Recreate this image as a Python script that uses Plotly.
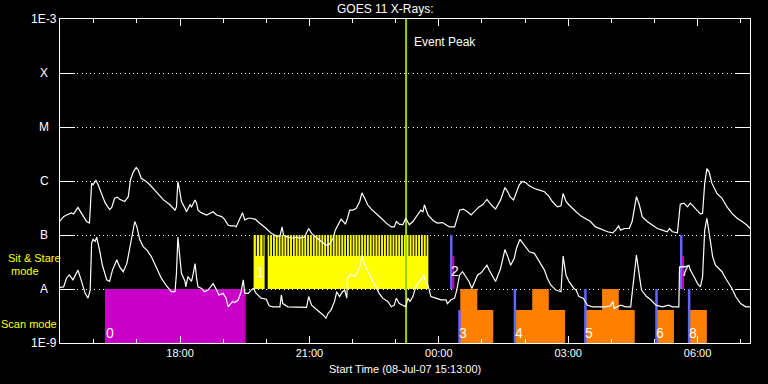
import pandas as pd
import plotly.graph_objects as go

# ---------------- data ----------------
START = pd.Timestamp("2007-07-08 15:13:00")
END = pd.Timestamp("2007-07-09 07:13:00")

# GOES long channel: minutes after start, log10 flux (W/m^2)
long_min = [0, 5, 9, 16, 19, 25, 30, 37, 41, 44, 46, 50, 53, 58, 63, 69, 72, 76, 80, 83,
            90, 95, 98, 102, 106, 109, 113, 120, 125, 134, 144, 153, 160, 162, 164, 166, 169, 174, 176, 181,
            183, 188, 190, 192, 197, 204, 211, 213, 218, 225, 229, 234, 238, 243,
            245, 250, 254, 257, 262, 266, 272, 275, 280, 287, 294, 301, 306, 309, 311, 317, 324, 329, 333, 340,
            346, 350, 354, 361, 366, 370, 375, 380, 383, 389, 391, 394, 397, 400, 403, 407, 412, 417, 420, 424,
            428, 433, 440, 447, 454, 461, 465, 468, 472,
            477, 481, 486, 491, 498, 502, 505, 507, 512, 519, 525, 532, 537, 542, 549, 552, 556, 561, 567, 572,
            576, 583, 588, 594, 600, 606, 613, 619, 623, 626, 631, 635, 639, 643, 648, 653, 660, 667, 674, 680,
            685, 692, 697, 700, 704, 708, 715,
            718, 725, 731, 738, 745, 755, 762, 769, 773, 777, 780, 785, 792, 796, 800, 802, 806, 810, 817, 824,
            831, 838, 845, 848, 852, 859, 861, 863, 868, 873, 877, 882, 887, 891, 894, 897, 900, 903, 907, 914,
            921, 928, 935, 942, 949, 956, 960]
long_log = [-6.74, -6.66, -6.63, -6.59, -6.61, -6.49, -6.60, -6.75, -6.78, -6.04, -6.07, -5.99, -6.07, -6.26, -6.41, -6.53, -6.49, -6.32, -6.30, -6.34,
            -6.38, -6.29, -5.98, -5.83, -5.75, -5.80, -5.95, -6.01, -6.07, -6.20, -6.35, -6.44, -6.54, -6.48, -6.01, -6.14, -6.38, -6.51, -6.57, -6.44,
            -6.48, -6.35, -6.41, -6.54, -6.59, -6.63, -6.59, -6.57, -6.63, -6.66, -6.71, -6.82, -6.83, -6.83,
            -6.85, -6.72, -6.59, -6.72, -6.69, -6.69, -6.71, -6.75, -6.80, -6.88, -6.97, -7.02, -7.02, -6.85, -7.00, -7.04, -7.06, -7.04, -7.06, -7.04,
            -6.88, -6.97, -7.02, -7.09, -7.15, -7.19, -7.17, -7.06, -6.91, -6.75, -6.71, -6.75, -6.80, -6.69, -6.54, -6.54, -6.51, -6.38, -6.22, -6.32,
            -6.44, -6.52, -6.60, -6.69, -6.78, -6.85, -6.85, -6.75, -6.80,
            -6.81, -6.69, -6.81, -6.75, -6.60, -6.54, -6.57, -6.44, -6.63, -6.73, -6.78, -6.77, -6.81, -6.85, -6.85, -6.72, -6.54, -6.52, -6.57, -6.63,
            -6.57, -6.48, -6.44, -6.34, -6.44, -6.52, -6.35, -6.12, -6.20, -6.29, -6.35, -6.20, -6.07, -6.01, -6.03, -6.09, -6.14, -6.17, -6.20, -6.28,
            -6.38, -6.48, -6.46, -6.23, -6.38, -6.44, -6.54,
            -6.57, -6.65, -6.69, -6.75, -6.85, -6.90, -6.94, -6.96, -6.91, -6.83, -6.91, -6.88, -6.88, -6.75, -6.40, -6.29, -6.44, -6.66, -6.75, -6.82,
            -6.88, -6.91, -6.94, -6.88, -6.94, -6.96, -6.66, -6.43, -6.41, -6.48, -6.41, -6.48, -6.54, -6.61, -6.60, -6.04, -5.77, -5.83, -6.04, -6.23,
            -6.32, -6.48, -6.60, -6.69, -6.75, -6.82, -6.88]

# GOES short channel
short_min = [0, 5, 9, 13, 18, 23, 25, 30, 35, 39, 42, 44, 46, 49, 51, 55, 59, 65, 69, 73,
             79, 83, 88, 93, 97, 101, 104, 107, 111, 116, 121, 127, 134, 141, 148, 155, 160, 162, 164, 167,
             169, 174, 175, 178, 183, 185, 188, 190, 192, 197, 201, 206, 213, 218, 221, 227, 231, 234, 237, 240,
             243, 248, 252, 255, 257, 262, 266, 269, 273, 280, 287, 291, 296, 306, 308, 310, 317, 329, 343, 346,
             350, 357, 361, 366, 370, 373, 377, 382, 385, 389, 393, 396, 399, 400, 404, 410, 414, 418, 420, 424,
             431, 438, 444, 449, 456, 461, 465, 468, 472,
             477, 481, 484, 487, 491, 495, 500, 504, 506, 508, 512, 516, 523, 530, 537, 539, 544, 549, 552, 556,
             560, 565, 569, 573, 576, 581, 586, 590, 594, 597, 602, 606, 613, 619, 623, 627, 632, 635, 640, 646,
             653, 660, 667, 674, 678, 683, 690, 697, 700, 704, 708, 715,
             718, 722, 728, 734, 741, 750, 759, 766, 769, 771, 775, 780, 787, 794, 796, 800, 802, 805, 809, 816,
             822, 829, 838, 847, 852, 861, 862, 866, 870, 875, 877, 882, 887, 891, 894, 897, 900, 904, 908, 912,
             917, 921, 926, 931, 935, 940, 947, 954, 960]
short_log = [-7.97, -7.96, -7.80, -7.74, -7.83, -7.68, -7.65, -7.86, -8.08, -8.17, -8.02, -7.15, -7.08, -7.12, -7.04, -7.28, -7.56, -7.83, -7.86, -7.65,
             -7.46, -7.59, -7.68, -7.53, -7.22, -6.91, -6.75, -6.85, -7.09, -7.22, -7.28, -7.40, -7.59, -7.80, -7.94, -8.05, -8.05, -7.71, -7.04, -7.46,
             -7.71, -7.86, -7.96, -7.77, -7.86, -7.74, -7.53, -7.80, -7.96, -7.99, -8.05, -8.02, -7.90, -8.02, -8.11, -8.08, -8.17, -8.33, -8.27, -8.23,
             -8.25, -8.20, -8.05, -7.83, -8.08, -8.08, -8.02, -7.99, -8.08, -8.17, -8.19, -8.31, -8.33, -8.33, -8.11, -8.27, -8.33, -8.33, -8.34, -8.14,
             -8.30, -8.38, -8.42, -8.48, -8.54, -8.45, -8.39, -8.23, -8.05, -8.14, -8.05, -8.02, -8.17, -7.80, -7.74, -7.76, -7.68, -7.56, -7.37, -7.56,
             -7.74, -7.93, -8.08, -8.17, -8.23, -8.33, -8.30, -8.17, -8.27,
             -8.30, -8.33, -8.17, -8.23, -8.14, -7.96, -7.86, -7.80, -7.74, -7.83, -7.93, -8.14, -8.17, -8.20, -8.20, -8.27, -8.20, -8.17, -8.02, -7.74,
             -7.68, -7.77, -7.86, -7.99, -7.90, -7.74, -7.70, -7.62, -7.56, -7.65, -7.77, -7.86, -7.62, -7.27, -7.40, -7.56, -7.43, -7.25, -7.08, -7.19,
             -7.31, -7.34, -7.49, -7.65, -7.80, -7.93, -8.02, -8.05, -7.39, -7.74, -7.86, -7.99,
             -8.02, -8.14, -8.17, -8.30, -8.33, -8.33, -8.33, -8.31, -8.23, -8.36, -8.33, -8.30, -8.33, -8.33, -8.08, -7.53, -7.37, -7.65, -8.02, -8.14,
             -8.20, -8.30, -8.33, -8.30, -8.33, -8.33, -7.59, -7.59, -7.59, -7.56, -7.65, -7.77, -7.90, -7.96, -7.77, -6.91, -6.69, -7.03, -7.40, -7.56,
             -7.62, -7.68, -7.80, -7.90, -7.99, -8.14, -8.27, -8.33, -8.33]

# flux-class levels (log10 W/m^2) and their names
level_logs = [-9, -8, -7, -6, -5, -4, -3]
level_names = ["1E-9", "A", "B", "C", "M", "X", "1E-3"]

xtick_times = ["2007-07-08 18:00", "2007-07-08 21:00", "2007-07-09 00:00",
               "2007-07-09 03:00", "2007-07-09 06:00"]
xtick_text = ["18:00", "21:00", "00:00", "03:00", "06:00"]

event_peak_min = 481.5

# observation 0 (magenta, scan)
obs0_label = "0"
obs0_start_min, obs0_end_min = 62.5, 258.3

# sit & stare block 1
ss_label = "1"
ss_start_min, ss_end_min = 269.4, 512.5
ss_break_min = (284.7, 288.9)
ss_mid_log = -7.39
ss_gap_min = [273.2, 277.8, 282.4,
              291.7, 295.7, 299.6, 303.6, 307.5, 311.5, 315.5, 319.4, 323.4, 327.3, 331.3, 335.3,
              339.2, 343.2, 347.1, 351.1, 355.1, 359.0, 363.0, 366.9, 370.9, 374.9, 378.8, 382.8,
              386.7, 390.7, 394.7, 398.6, 402.6, 406.5, 410.5, 414.5, 418.4, 422.4, 426.3, 430.3,
              434.3, 438.2, 442.2, 446.1, 450.1, 454.1, 458.0, 462.0, 465.9, 469.9, 473.9, 477.8,
              481.8, 485.7, 489.7, 493.7, 497.6, 501.6, 505.5, 509.5]
# sit & stare markers 2 and 7
ssm_labels = ["2", "7"]
ssm_blue_min = [544.4, 864.3]
ssm_mag_min = [547.2, 866.9]

# scan blocks
scan_labels = ["3", "4", "5", "6", "8"]
scan_start_min = [555.8, 632.9, 731.0, 829.9, 875.3]
scan_start_top_log = [-8.39, -8.0, -8.0, -8.0, -8.0]
scan_low_end_min = [602.8, 702.8, 799.6, 854.2, 900.0]
scan_low_log = -8.39
scan_high_start_min = [556.9, 657.0, 754.2]
scan_high_end_min = [580.6, 680.1, 777.4]

# ---------------- helpers ----------------
def t(m):
    return START + pd.to_timedelta(m, unit="m")

def fl(lg):
    return 10.0 ** lg

def rects(starts, ends, bottoms, tops):
    xs, ys = [], []
    for a, b, lo, hi in zip(starts, ends, bottoms, tops):
        xs += [t(a), t(b), t(b), t(a), t(a), None]
        ys += [fl(lo), fl(lo), fl(hi), fl(hi), fl(lo), None]
    return xs, ys

def vlines(times, bottoms, tops):
    xs, ys = [], []
    for m, lo, hi in zip(times, bottoms, tops):
        xs += [t(m), t(m), None]
        ys += [fl(lo), fl(hi), None]
    return xs, ys

L, R, T, B = 60, 18, 19, 41
PW, PH = 768 - L - R, 384 - T - B
def px(p):
    return (p - L) / PW
def py(p):
    return (384 - B - p) / PH

WHITE = "white"
YEL = "#ffff00"
MAG = "#c800c8"
ORA = "#ff8000"
BLU = "#6464ff"
EVT = "#a0d000"
FONT = "Liberation Sans"

fig = go.Figure()

def fillrect(xs, ys, color):
    fig.add_trace(go.Scatter(x=xs, y=ys, mode="lines", fill="toself", fillcolor=color,
                             line=dict(width=0, color=color), hoverinfo="skip", showlegend=False))

def addlines(xs, ys, color, w):
    fig.add_trace(go.Scatter(x=xs, y=ys, mode="lines", line=dict(width=w, color=color),
                             hoverinfo="skip", showlegend=False))

# magenta block 0
fillrect(*rects([obs0_start_min], [obs0_end_min], [-9], [-8]), MAG)
# sit & stare yellow block
fillrect(*rects([ss_start_min], [ss_end_min], [-8], [-7]), YEL)
fillrect(*rects([ss_break_min[0]], [ss_break_min[1]], [-8], [-7]), "black")
addlines(*vlines(ss_gap_min, [ss_mid_log] * len(ss_gap_min), [-7] * len(ss_gap_min)), "black", 1)
# scan blocks
fillrect(*rects(scan_start_min, scan_low_end_min, [-9] * 5, [scan_low_log] * 5), ORA)
fillrect(*rects(scan_high_start_min, scan_high_end_min, [-9] * 3, [-8] * 3), ORA)
addlines(*vlines(scan_start_min, [-9] * 5, scan_start_top_log), BLU, 2.5)
# sit & stare markers
addlines(*vlines(ssm_blue_min, [-8, -8], [-7, -7]), BLU, 2.5)
addlines(*vlines(ssm_mag_min, [-8, -8], [ss_mid_log, ss_mid_log]), MAG, 2)
# event peak
addlines(*vlines([event_peak_min], [-9], [-3]), EVT, 2)

# flux curves
fig.add_trace(go.Scatter(x=[t(m) for m in long_min], y=[fl(v) for v in long_log], mode="lines",
                         line=dict(color=WHITE, width=1.2), hoverinfo="skip", showlegend=False))
fig.add_trace(go.Scatter(x=[t(m) for m in short_min], y=[fl(v) for v in short_log], mode="lines",
                         line=dict(color=WHITE, width=1.2), hoverinfo="skip", showlegend=False))

ann = []
# y level names
for name, lg in zip(level_names, level_logs):
    ann.append(dict(x=px(44), y=(lg + 9) / 6, xref="paper", yref="paper", text=name, showarrow=False,
                    xanchor="center", yanchor="middle", font=dict(color=WHITE, size=12, family=FONT)))
# mode labels
ann.append(dict(x=px(34), y=py(258), xref="paper", yref="paper", text="Sit & Stare", showarrow=False,
                xanchor="center", yanchor="middle", borderpad=0, font=dict(color=YEL, size=11, family=FONT)))
ann.append(dict(x=px(25), y=py(271), xref="paper", yref="paper", text="mode", showarrow=False,
                xanchor="center", yanchor="middle", borderpad=0, font=dict(color=YEL, size=11, family=FONT)))
ann.append(dict(x=px(29), y=py(324), xref="paper", yref="paper", text="Scan mode", showarrow=False,
                xanchor="center", yanchor="middle", borderpad=0, font=dict(color=YEL, size=11, family=FONT)))
# title and x title
ann.append(dict(x=px(385), y=py(9), xref="paper", yref="paper", text="GOES 11 X-Rays:", showarrow=False,
                xanchor="center", yanchor="middle", font=dict(color=WHITE, size=12, family=FONT)))
ann.append(dict(x=px(405), y=py(369), xref="paper", yref="paper", text="Start Time (08-Jul-07 15:13:00)",
                showarrow=False, xanchor="center", yanchor="middle", font=dict(color=WHITE, size=11, family=FONT)))
# event peak label
ann.append(dict(x=t(event_peak_min), y=py(42), xref="x", yref="paper", text="Event Peak", showarrow=False,
                xanchor="left", yanchor="middle", xshift=6, font=dict(color=WHITE, size=12, family=FONT)))
# block labels
lab_font = dict(color=WHITE, size=14, family=FONT)
ann.append(dict(x=t(obs0_start_min), y=py(333), xref="x", yref="paper", text=obs0_label, showarrow=False,
                xanchor="left", yanchor="middle", xshift=-1, font=lab_font))
ann.append(dict(x=t(ss_start_min), y=py(272), xref="x", yref="paper", text=ss_label, showarrow=False,
                xanchor="left", yanchor="middle", xshift=0, font=lab_font))
for lab, m in zip(ssm_labels, ssm_blue_min):
    ann.append(dict(x=t(m), y=py(271), xref="x", yref="paper", text=lab, showarrow=False,
                    xanchor="left", yanchor="middle", xshift=-2, font=lab_font))
for lab, m in zip(scan_labels, scan_start_min):
    ann.append(dict(x=t(m), y=py(333), xref="x", yref="paper", text=lab, showarrow=False,
                    xanchor="left", yanchor="middle", xshift=-2, font=lab_font))

fig.update_layout(
    width=768, height=384, margin=dict(l=L, r=R, t=T, b=B),
    paper_bgcolor="black", plot_bgcolor="black",
    showlegend=False, hovermode=False, annotations=ann,
    font=dict(family=FONT, color=WHITE, size=11),
)
fig.update_xaxes(
    type="date", range=[START, END],
    tickvals=xtick_times, ticktext=xtick_text,
    ticks="inside", ticklen=7, tickwidth=1, tickcolor=WHITE,
    showline=True, linecolor=WHITE, linewidth=1, mirror="ticks",
    showgrid=False, zeroline=False,
    tickfont=dict(color=WHITE, size=11, family=FONT),
    minor=dict(tick0="2007-07-08 18:00", dtick=3600000, ticks="inside", ticklen=4,
               tickcolor=WHITE, tickwidth=1, showgrid=False),
)
fig.update_yaxes(
    type="log", range=[-9, -3],
    tickvals=[fl(v) for v in level_logs[1:-1]], showticklabels=False,
    ticks="inside", ticklen=15, tickwidth=1, tickcolor=WHITE,
    showline=True, linecolor=WHITE, linewidth=1, mirror="ticks",
    showgrid=True, gridcolor=WHITE, gridwidth=1, griddash="1px,3.3px",
    zeroline=False,
)

fig.write_html(
    "out.html",
    config={"displayModeBar": False},
    post_script="document.body.style.margin='0';document.body.style.background='black';",
)
